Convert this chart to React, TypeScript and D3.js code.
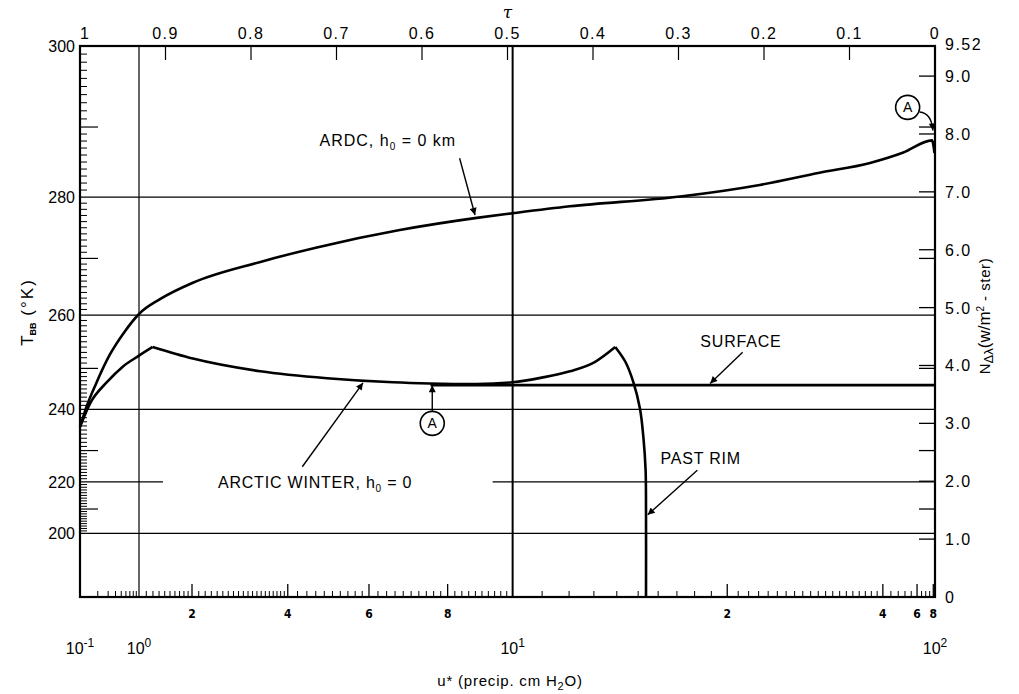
import { useEffect, useRef } from "react";
import * as d3 from "d3";

// top axis: transmittance tau
const tauTicks = [0.9, 0.8, 0.7, 0.6, 0.5, 0.4, 0.3, 0.2, 0.1];
const tauLabelValues = [1, 0.9, 0.8, 0.7, 0.6, 0.5, 0.4, 0.3, 0.2, 0.1, 0];
const tauLabelText = ["1", "0.9", "0.8", "0.7", "0.6", "0.5", "0.4", "0.3", "0.2", "0.1", "0"];

// bottom axis: u* read against tau
const uAnchor = [0.1, 1, 2, 4, 6, 8, 10, 20, 40, 60, 80, 100];
const uAnchorTau = [1.0, 0.931, 0.869, 0.757, 0.662, 0.57, 0.494, 0.243, 0.061, 0.021, 0.002, 0.0];
const uLabelled = [2, 4, 6, 8, 20, 40, 60, 80];
const uLabelText = ["2", "4", "6", "8", "2", "4", "6", "8"];
const uDecades = [0.1, 1, 10, 100];
const uDecadeExp = ["-1", "0", "1", "2"];
const uGrid = [1, 10];

// left axis: T_BB against radiance (right axis)
const tempK = [200, 210, 220, 230, 240, 250, 260, 270, 280, 290, 300];
const tempN = [1.1, 1.52, 1.99, 2.53, 3.24, 3.95, 4.87, 5.85, 6.91, 8.12, 9.52];
const tempLabels = [300, 280, 260, 240, 220, 200];
const tempGrid = [280, 260, 240, 220, 200];
const tempMid = [290, 270, 250, 230, 210];
const radTicks = [1, 2, 3, 4, 5, 6, 7, 8, 9];
const radLabels = ["1.0", "2.0", "3.0", "4.0", "5.0", "6.0", "7.0", "8.0", "9.0"];

// curves: [tau, N]
const ardcTau = [1.0, 0.992, 0.982, 0.965, 0.948, 0.931, 0.906, 0.868, 0.789, 0.723, 0.626, 0.536, 0.494, 0.427, 0.298, 0.205, 0.135, 0.076, 0.037, 0.0035, 0.0006];
const ardcN = [2.94, 3.3, 3.66, 4.19, 4.58, 4.89, 5.15, 5.43, 5.79, 6.04, 6.34, 6.55, 6.63, 6.75, 6.92, 7.12, 7.33, 7.5, 7.68, 7.89, 7.67];
const arcticRiseTau = [1.0, 0.988, 0.968, 0.95, 0.931, 0.915];
const arcticRiseN = [2.94, 3.35, 3.72, 3.98, 4.17, 4.32];
const arcticDipTau = [0.915, 0.868, 0.789, 0.711, 0.634, 0.591, 0.536, 0.494, 0.46, 0.427, 0.398, 0.374];
const arcticDipN = [4.32, 4.12, 3.9, 3.78, 3.71, 3.69, 3.68, 3.71, 3.79, 3.9, 4.06, 4.32];
const arcticRimTau = [0.374, 0.362, 0.353, 0.345, 0.341, 0.3385, 0.338, 0.338];
const arcticRimN = [4.32, 4.06, 3.72, 3.25, 2.75, 2.2, 1.5, 0];
const surfaceTau = [0.59, 0];
const surfaceN = [3.66, 3.66];

const FONT = "'Liberation Sans', Arial, sans-serif";

export default function App() {
  const svgRef = useRef<SVGSVGElement>(null);

  useEffect(() => {
    const width = 1019;
    const height = 694;
    const svg = d3.select(svgRef.current);
    svg.selectAll("*").remove();
    svg.attr("width", width).attr("height", height).style("font-family", FONT);

    const x = d3.scaleLinear().domain([1, 0]).range([80, 935]);
    const y = d3.scaleLinear().domain([0, 9.52]).range([597, 46]);
    const tN = d3.scaleLinear().domain(tempK).range(tempN);
    const uT = d3.scaleLinear().domain(uAnchor.map(Math.log10)).range(uAnchorTau);
    const xu = (u: number) => x(uT(Math.log10(u)));
    const yT = (t: number) => y(tN(t));

    svg.append("rect").attr("width", width).attr("height", height).attr("fill", "#fff");

    const defs = svg.append("defs");
    defs
      .append("marker")
      .attr("id", "arr")
      .attr("viewBox", "0 0 10 10")
      .attr("refX", 10)
      .attr("refY", 5)
      .attr("markerWidth", 9)
      .attr("markerHeight", 7)
      .attr("markerUnits", "userSpaceOnUse")
      .attr("orient", "auto")
      .append("path")
      .attr("d", "M0,0 L10,5 L0,10 z")
      .attr("fill", "#000");

    const [x0, x1] = x.range();
    const [y0, y1] = y.range();

    // horizontal grid at T = 280..200
    tempGrid.forEach((t) => {
      if (t === 220) {
        svg.append("line").attr("x1", x0).attr("x2", xu(1) + 24).attr("y1", yT(t)).attr("y2", yT(t)).attr("stroke", "#000").attr("stroke-width", 1.2);
        svg.append("line").attr("x1", xu(10) - 20).attr("x2", x1).attr("y1", yT(t)).attr("y2", yT(t)).attr("stroke", "#000").attr("stroke-width", 1.2);
      } else {
        svg.append("line").attr("x1", x0).attr("x2", x1).attr("y1", yT(t)).attr("y2", yT(t)).attr("stroke", "#000").attr("stroke-width", 1.2);
      }
    });

    // vertical grid at u = 1, 10
    uGrid.forEach((u) => {
      svg.append("line").attr("x1", xu(u)).attr("x2", xu(u)).attr("y1", y1).attr("y2", y0).attr("stroke", "#000").attr("stroke-width", u === 10 ? 2 : 1.2);
    });

    // frame
    svg.append("rect").attr("x", x0).attr("y", y1).attr("width", x1 - x0).attr("height", y0 - y1).attr("fill", "none").attr("stroke", "#000").attr("stroke-width", 2.2);

    // top ticks
    svg.selectAll(".ttick").data(tauTicks).join("line").attr("x1", (d) => x(d)).attr("x2", (d) => x(d)).attr("y1", y1).attr("y2", y1 + 14).attr("stroke", "#000").attr("stroke-width", 1.2);
    svg.selectAll(".tlab").data(tauLabelValues).join("text")
      .attr("x", (d) => x(d)).attr("y", 39)
      .attr("text-anchor", (d, i) => (i === 0 ? "start" : "middle"))
      .attr("font-size", 16).attr("letter-spacing", 1.5)
      .text((d, i) => tauLabelText[i]);
    svg.append("text").attr("x", x(0.5)).attr("y", 18).attr("text-anchor", "middle").attr("font-size", 17).attr("font-style", "italic").attr("font-family", "'DejaVu Serif', serif").text("τ");

    // left ticks
    const minorT = d3.range(200, 301, 1).filter((t) => t % 10 !== 0);
    svg.selectAll(".lmin").data(minorT).join("line").attr("x1", x0).attr("x2", x0 + 7).attr("y1", (d) => yT(d)).attr("y2", (d) => yT(d)).attr("stroke", "#000").attr("stroke-width", 1);
    svg.selectAll(".lmid").data(tempMid).join("line").attr("x1", x0).attr("x2", x0 + 18).attr("y1", (d) => yT(d)).attr("y2", (d) => yT(d)).attr("stroke", "#000").attr("stroke-width", 1.2);
    svg.selectAll(".llab").data(tempLabels).join("text")
      .attr("x", x0 - 5).attr("y", (d) => yT(d) + 6)
      .attr("text-anchor", "end").attr("font-size", 16)
      .text((d) => d);

    // right ticks
    svg.selectAll(".rtick").data(radTicks).join("line").attr("x1", x1 - 16).attr("x2", x1).attr("y1", (d) => y(d)).attr("y2", (d) => y(d)).attr("stroke", "#000").attr("stroke-width", 1.3);
    svg.selectAll(".rmid").data(tempMid).join("line").attr("x1", x1 - 16).attr("x2", x1).attr("y1", (d) => yT(d)).attr("y2", (d) => yT(d)).attr("stroke", "#000").attr("stroke-width", 1.3);
    svg.selectAll(".rlab").data(radTicks).join("text")
      .attr("x", x1 + 10).attr("y", (d) => y(d) + 6)
      .attr("font-size", 16).attr("letter-spacing", 1.5)
      .text((d, i) => radLabels[i]);
    svg.append("text").attr("x", x1 + 10).attr("y", y(0) + 6).attr("font-size", 16).text("0");
    svg.append("text").attr("x", x1 + 10).attr("y", y(9.52) + 4).attr("font-size", 16).attr("letter-spacing", 1.5).text("9.52");

    // bottom ticks
    const minorU = [
      ...d3.range(0.2, 0.95, 0.1),
      ...d3.range(1.1, 1.95, 0.1),
      ...d3.range(2.1, 3.95, 0.1),
      ...d3.range(4.2, 5.9, 0.2),
      ...d3.range(6.2, 7.9, 0.2),
      ...d3.range(8.2, 9.9, 0.2),
      ...d3.range(11, 20, 1),
      ...d3.range(21, 40, 1),
      44, 48, 52, 56, 65, 70, 75,
    ];
    svg.selectAll(".bmin").data(minorU).join("line").attr("x1", (d) => xu(d)).attr("x2", (d) => xu(d)).attr("y1", y0).attr("y2", y0 - 6).attr("stroke", "#000").attr("stroke-width", 1);
    svg.selectAll(".bmaj").data(uLabelled).join("line").attr("x1", (d) => xu(d)).attr("x2", (d) => xu(d)).attr("y1", y0).attr("y2", y0 - 13).attr("stroke", "#000").attr("stroke-width", 1.3);
    svg.selectAll(".blab").data(uLabelled).join("text")
      .attr("x", (d) => xu(d)).attr("y", 618)
      .attr("text-anchor", "middle").attr("font-size", 12).attr("font-weight", "bold")
      .attr("font-family", "'Liberation Sans Narrow', 'DejaVu Sans Condensed', sans-serif")
      .text((d, i) => uLabelText[i]);
    const dec = svg.selectAll(".bdec").data(uDecades).join("text")
      .attr("x", (d) => xu(d)).attr("y", 654)
      .attr("text-anchor", "middle").attr("font-size", 16);
    dec.append("tspan").text("10");
    dec.append("tspan").attr("dy", -7).attr("font-size", 12).text((d, i) => uDecadeExp[i]);

    svg.append("text").attr("x", 510).attr("y", 686).attr("text-anchor", "middle").attr("font-size", 15).attr("letter-spacing", 0.8)
      .call((t) => {
        t.append("tspan").text("u* (precip. cm H");
        t.append("tspan").attr("dy", 4).attr("font-size", 11).text("2");
        t.append("tspan").attr("dy", -4).text("O)");
      });

    // axis titles
    svg.append("text").attr("transform", "translate(33,312) rotate(-90)").attr("text-anchor", "middle").attr("font-size", 17)
      .call((t) => {
        t.append("tspan").text("T");
        t.append("tspan").attr("dy", 3).attr("font-size", 9).attr("font-weight", "bold").text("BB");
        t.append("tspan").attr("dy", -3).attr("letter-spacing", 2).text("    (°K)");
      });
    svg.append("text").attr("transform", "translate(990,316) rotate(-90)").attr("text-anchor", "middle").attr("font-size", 15)
      .call((t) => {
        t.append("tspan").text("N");
        t.append("tspan").attr("dy", 3).attr("font-size", 13).text("Δλ");
        t.append("tspan").attr("dy", -3).attr("font-size", 17).text("(w/m");
        t.append("tspan").attr("dy", -6).attr("font-size", 10).text("2");
        t.append("tspan").attr("dy", 6).attr("font-size", 15).attr("letter-spacing", 0.6).text(" - ster)");
      });

    // curves
    const toPts = (ts: number[], ns: number[]) => ts.map((t, i) => [t, ns[i]] as [number, number]);
    const smooth = d3
      .line<[number, number]>()
      .x((d) => x(d[0]))
      .y((d) => y(d[1]))
      .curve(d3.curveMonotoneX);
    const rim = d3
      .line<[number, number]>()
      .x((d) => x(d[0]))
      .y((d) => y(d[1]))
      .curve(d3.curveCatmullRom.alpha(0.5));
    const series = [
      { pts: toPts(ardcTau, ardcN), gen: smooth },
      { pts: toPts(arcticRiseTau, arcticRiseN), gen: smooth },
      { pts: toPts(arcticDipTau, arcticDipN), gen: smooth },
      { pts: toPts(arcticRimTau, arcticRimN), gen: rim },
      { pts: toPts(surfaceTau, surfaceN), gen: smooth },
    ];
    svg.selectAll(".curve").data(series).join("path")
      .attr("fill", "none").attr("stroke", "#000").attr("stroke-width", 2.6)
      .attr("stroke-linejoin", "round")
      .attr("d", (d) => d.gen(d.pts));

    // annotations
    const arrow = (ta: number, na: number, tb: number, nb: number) =>
      svg.append("line").attr("x1", x(ta)).attr("y1", y(na)).attr("x2", x(tb)).attr("y2", y(nb))
        .attr("stroke", "#000").attr("stroke-width", 1.4).attr("marker-end", "url(#arr)");
    const label = (t: number, n: number, s: string) =>
      svg.append("text").attr("x", x(t)).attr("y", y(n) + 6).attr("text-anchor", "middle").attr("font-size", 16).attr("letter-spacing", 0.8).text(s);
    const circleA = (t: number, n: number) => {
      svg.append("circle").attr("cx", x(t)).attr("cy", y(n)).attr("r", 12).attr("fill", "#fff").attr("stroke", "#000").attr("stroke-width", 1.6);
      svg.append("text").attr("x", x(t)).attr("y", y(n) + 5).attr("text-anchor", "middle").attr("font-size", 14).text("A");
    };

    svg.append("text").attr("x", x(0.64)).attr("y", y(7.89) + 6).attr("text-anchor", "middle").attr("font-size", 16).attr("letter-spacing", 1)
      .call((t) => {
        t.append("tspan").text("ARDC,  h");
        t.append("tspan").attr("dy", 4).attr("font-size", 10).text("0");
        t.append("tspan").attr("dy", -4).text(" = 0 km");
      });
    arrow(0.556, 7.58, 0.538, 6.6);

    svg.append("text").attr("x", x(0.725)).attr("y", y(1.99) + 6).attr("text-anchor", "middle").attr("font-size", 16).attr("letter-spacing", 0.8)
      .call((t) => {
        t.append("tspan").text("ARCTIC WINTER,  h");
        t.append("tspan").attr("dy", 4).attr("font-size", 10).text("0");
        t.append("tspan").attr("dy", -4).text(" = 0");
      });
    arrow(0.74, 2.25, 0.669, 3.7);

    circleA(0.588, 3.0);
    arrow(0.588, 3.21, 0.588, 3.66);

    label(0.227, 4.42, "SURFACE");
    arrow(0.225, 4.23, 0.263, 3.69);

    label(0.274, 2.4, "PAST RIM");
    arrow(0.278, 2.19, 0.336, 1.42);

    circleA(0.032, 8.46);
    svg.append("path")
      .attr("d", `M${x(0.018)},${y(8.38)} Q${x(0.004)},${y(8.36)} ${x(0.0025)},${y(8.06)}`)
      .attr("fill", "none").attr("stroke", "#000").attr("stroke-width", 1.4).attr("marker-end", "url(#arr)");
  }, []);

  return <svg ref={svgRef} style={{ position: "absolute", left: 0, top: 0, display: "block" }}></svg>;
}
